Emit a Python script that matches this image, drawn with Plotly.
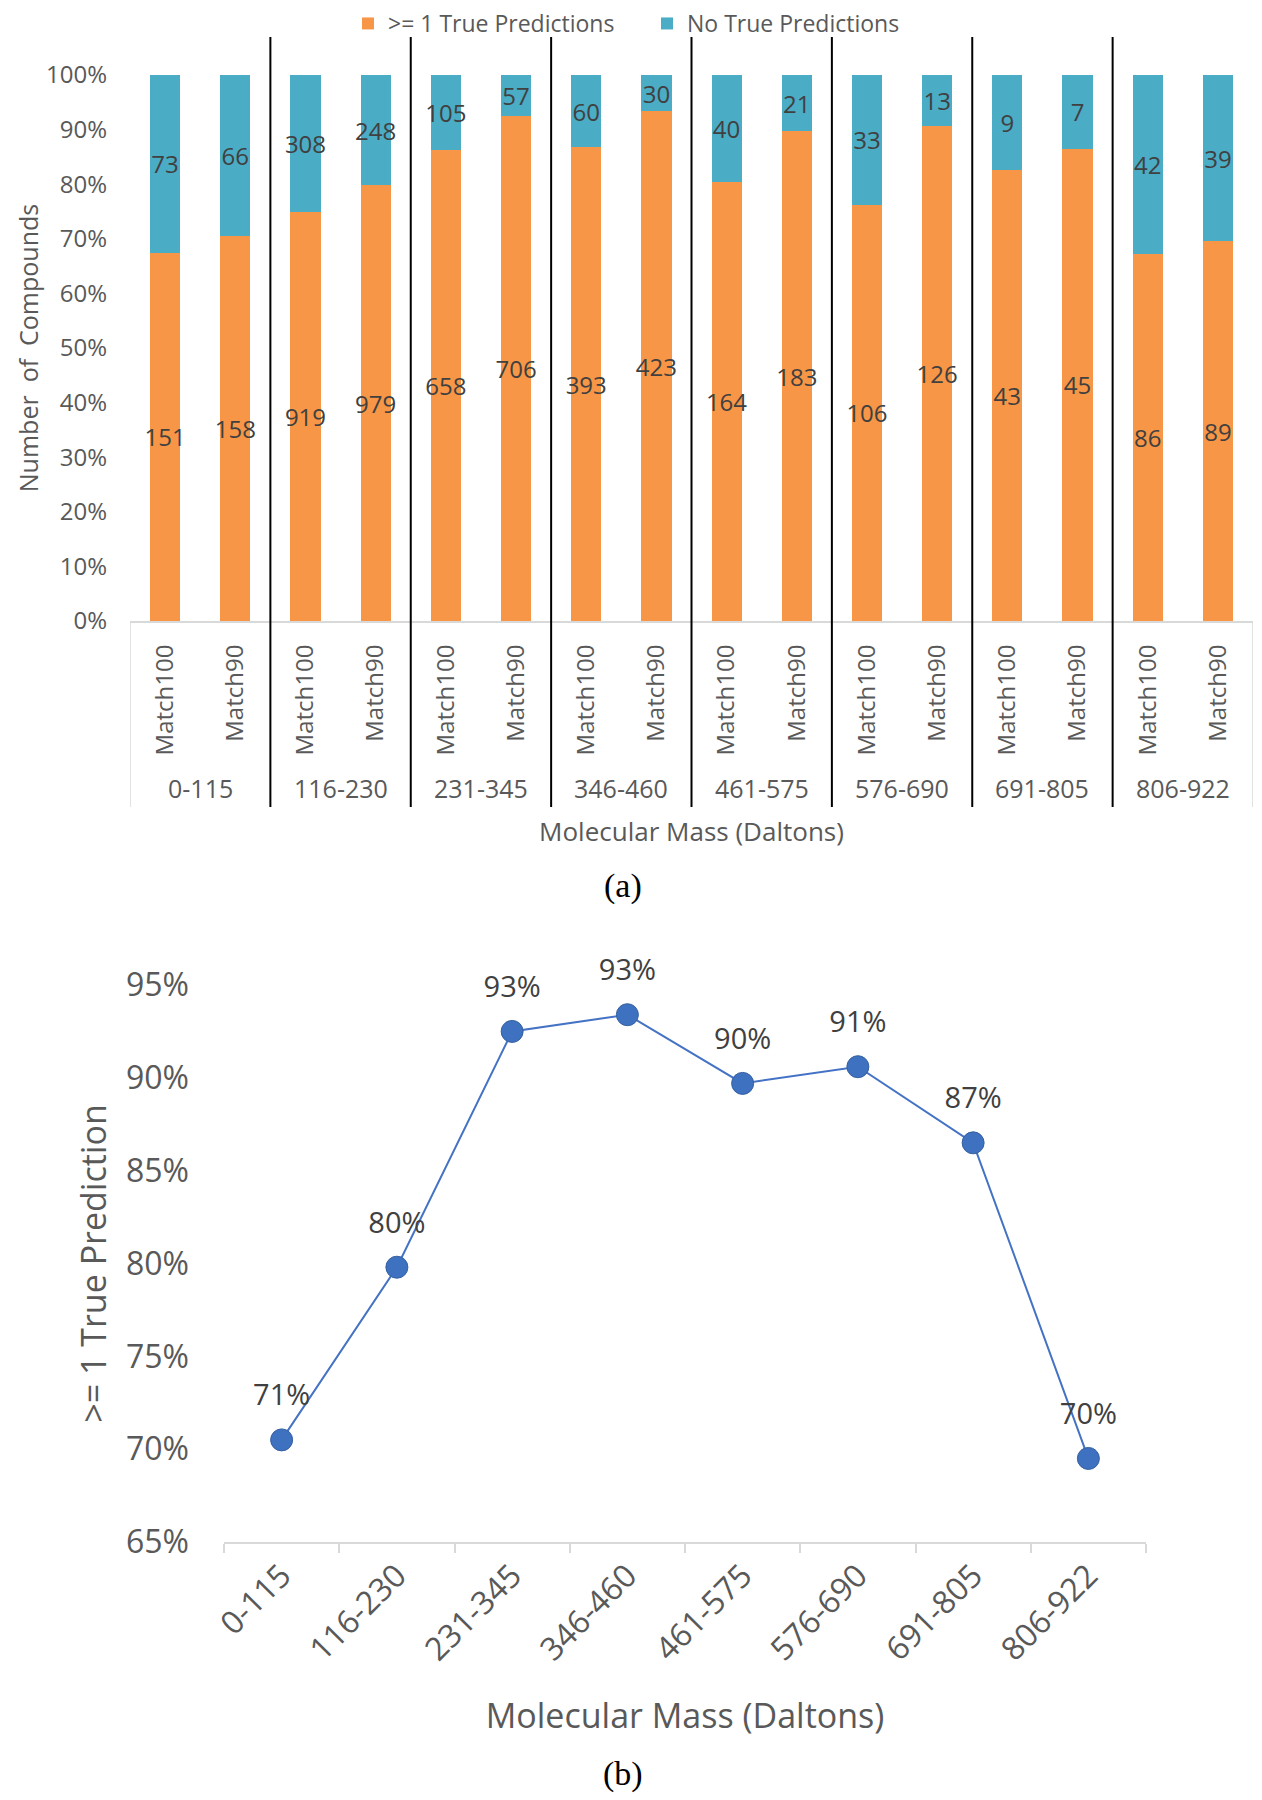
import plotly.graph_objects as go

# ---------------- data ----------------
groups = ["0-115", "116-230", "231-345", "346-460", "461-575", "576-690", "691-805", "806-922"]
subcats = ["Match100", "Match90"]
true_counts = [151, 158, 919, 979, 658, 706, 393, 423, 164, 183, 106, 126, 43, 45, 86, 89]
none_counts = [73, 66, 308, 248, 105, 57, 60, 30, 40, 21, 33, 13, 9, 7, 42, 39]
pct_match90 = [70.5, 79.8, 92.5, 93.4, 89.7, 90.6, 86.5, 69.5]
yticks_a = [0, 10, 20, 30, 40, 50, 60, 70, 80, 90, 100]
yticks_b = [65, 70, 75, 80, 85, 90, 95]

# page has an 8px body margin, so the figure is 8px smaller and offset
OFF = 8
W, H = 1262 - OFF, 1800 - OFF
FONT = "Open Sans, DejaVu Sans, sans-serif"
SERIF = "Liberation Serif, DejaVu Serif, serif"
GRAY = "#595959"
DARK = "#404040"
ORANGE = "#F79646"
BLUE = "#4BACC6"
LINEBLUE = "#4472C4"

def X(px):
    return (px - OFF) / W

def Y(px):
    return 1 - (px - OFF) / H

bar_x = list(range(len(true_counts)))
bar_ticktext = [subcats[i % len(subcats)] for i in bar_x]

fig = go.Figure()
fig.add_trace(go.Bar(
    x=bar_x, y=true_counts, name=">= 1 True Predictions",
    marker=dict(color=ORANGE, line=dict(width=0)),
    text=true_counts, textposition="inside", insidetextanchor="middle", textangle=0,
    textfont=dict(size=24, color=DARK, family=FONT),
    width=0.43, xaxis="x", yaxis="y", hoverinfo="skip",
))
fig.add_trace(go.Bar(
    x=bar_x, y=none_counts, name="No True Predictions",
    marker=dict(color=BLUE, line=dict(width=0)),
    text=none_counts, textposition="inside", insidetextanchor="middle", textangle=0,
    textfont=dict(size=24, color=DARK, family=FONT),
    width=0.43, xaxis="x", yaxis="y", hoverinfo="skip",
))

# panel (b)
fig.add_trace(go.Scatter(
    x=groups, y=pct_match90, mode="lines+markers",
    line=dict(color=LINEBLUE, width=2),
    marker=dict(size=22, color="#3F71C1", line=dict(color="#35609F", width=1)),
    xaxis="x2", yaxis="y2", showlegend=False, hoverinfo="skip", cliponaxis=False,
))
fig.add_trace(go.Scatter(
    x=groups, y=pct_match90, mode="markers+text",
    marker=dict(size=42, color="rgba(0,0,0,0)"),
    texttemplate="%{y:.0f}%", textposition="top center",
    textfont=dict(size=29, color=DARK, family=FONT),
    xaxis="x2", yaxis="y2", showlegend=False, hoverinfo="skip", cliponaxis=False,
))

shapes = []
sep_bottom, sep_top = Y(807), Y(37)
for i in range(1, len(groups)):
    xb = i * len(subcats) - 0.5
    shapes.append(dict(type="line", xref="x", yref="paper", x0=xb, x1=xb,
                       y0=sep_bottom, y1=sep_top, line=dict(color="black", width=2)))
for xb in (-0.5, len(true_counts) - 0.5):
    shapes.append(dict(type="line", xref="x", yref="paper", x0=xb, x1=xb,
                       y0=sep_bottom, y1=Y(621), line=dict(color="#D9D9D9", width=1.5)))

annotations = []
for i, g in enumerate(groups):
    annotations.append(dict(text=g, xref="x", yref="paper",
                            x=i * len(subcats) + (len(subcats) - 1) / 2, y=Y(788),
                            showarrow=False, xanchor="center", yanchor="middle",
                            font=dict(size=25, color=GRAY, family=FONT)))
annotations.append(dict(text="(a)", xref="paper", yref="paper", x=X(623), y=Y(886),
                        showarrow=False, xanchor="center", yanchor="middle",
                        font=dict(size=34, color="black", family=SERIF)))
annotations.append(dict(text="(b)", xref="paper", yref="paper", x=X(623), y=Y(1774),
                        showarrow=False, xanchor="center", yanchor="middle",
                        font=dict(size=34, color="black", family=SERIF)))

fig.update_layout(
    width=W, height=H, autosize=False,
    margin=dict(l=0, r=0, t=0, b=0, autoexpand=False),
    paper_bgcolor="white", plot_bgcolor="white",
    font=dict(family=FONT, color=GRAY),
    barmode="stack", barnorm="percent",
    uniformtext=dict(minsize=24, mode="show"),
    showlegend=True,
    legend=dict(orientation="h", x=X(348), xanchor="left", y=Y(2), yanchor="top",
                traceorder="normal", font=dict(size=23, color=GRAY, family=FONT),
                entrywidth=254, entrywidthmode="pixels",
                bgcolor="rgba(0,0,0,0)"),
    xaxis=dict(domain=[X(130), X(1253)], range=[-0.5, len(true_counts) - 0.5],
               tickmode="array", tickvals=bar_x, ticktext=bar_ticktext, tickangle=-90,
               tickfont=dict(size=24, color=GRAY), ticks="", showgrid=False, zeroline=False,
               showline=True, linecolor="#D9D9D9", linewidth=2, ticklabelstandoff=12,
               anchor="y",
               title=dict(text="Molecular Mass (Daltons)", font=dict(size=26, color=GRAY),
                          standoff=68)),
    yaxis=dict(domain=[Y(621), Y(75)], range=[0, 100], tickmode="array", tickvals=yticks_a,
               ticktext=[f"{v}%" for v in yticks_a],
               tickfont=dict(size=24, color=GRAY), showgrid=False,
               zeroline=False, showline=False, ticks="", ticklabelstandoff=22, anchor="x",
               title=dict(text="Number  of  Compounds", font=dict(size=25, color=GRAY),
                          standoff=0)),
    xaxis2=dict(domain=[X(224), X(1146)], type="category", range=[-0.5, len(groups) - 0.5],
                tickangle=-45, tickfont=dict(size=32, color=GRAY), showgrid=False,
                zeroline=False, showline=True, linecolor="#D9D9D9", linewidth=2,
                ticks="outside", tickson="boundaries", ticklen=9, tickcolor="#D9D9D9",
                tickwidth=2, anchor="y2",
                title=dict(text="Molecular Mass (Daltons)", font=dict(size=34, color=GRAY),
                           standoff=36)),
    yaxis2=dict(domain=[Y(1542), Y(985)], range=[65, 95], tickmode="array", tickvals=yticks_b,
                ticktext=[f"{v}%" for v in yticks_b],
                tickfont=dict(size=32, color=GRAY), showgrid=False,
                zeroline=False, showline=False, ticks="", ticklabelstandoff=34, anchor="x2",
                title=dict(text=">= 1 True Prediction", font=dict(size=34, color=GRAY),
                           standoff=9)),
    shapes=shapes,
    annotations=annotations,
)

fig.write_html("out.html")
